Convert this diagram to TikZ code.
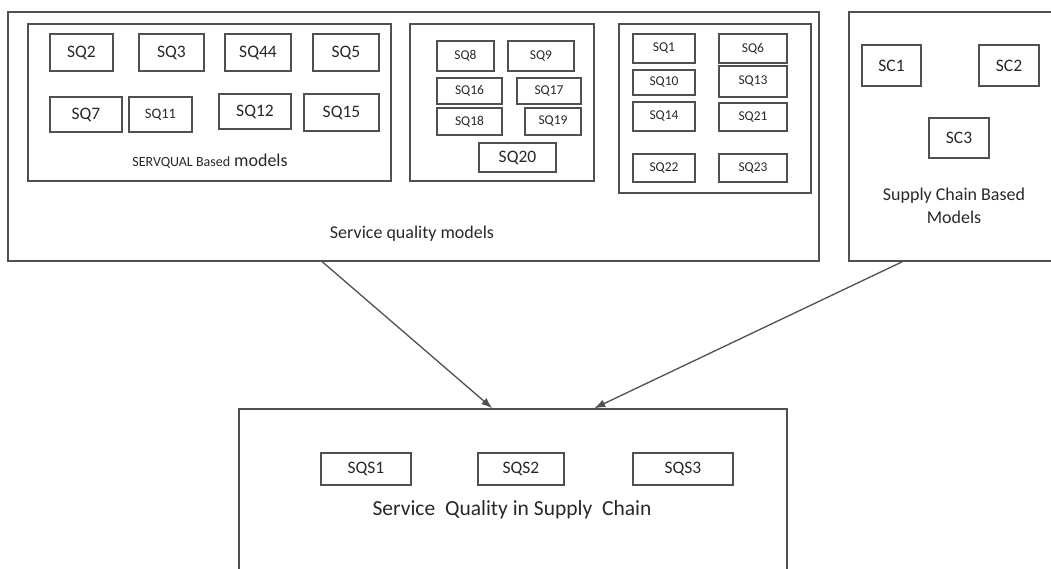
\documentclass[tikz,border=0pt]{standalone}
\usepackage{fontspec}
\setmainfont{Carlito}
\usetikzlibrary{arrows.meta}

\definecolor{linegray}{RGB}{80,80,80}
\definecolor{textgray}{RGB}{40,40,40}

\begin{document}
\begin{tikzpicture}[x=1pt, y=-1pt, >={Latex[length=11pt,width=8pt]},
    frame/.style={rectangle, draw=linegray, line width=1.5pt, inner sep=0pt},
    box/.style={rectangle, draw=linegray, line width=1.6pt, inner sep=0pt, text=textgray, font=\fontsize{17.5}{20}\selectfont},
    smallbox/.style={box, font=\fontsize{13.5}{16}\selectfont},
    caption/.style={text=textgray, font=\fontsize{18}{23}\selectfont, align=center}]
\useasboundingbox (0,0) rectangle (1051,568);

% service quality models and its three groups
\node[frame, minimum width=811, minimum height=249] (sqm) at (413.5,136.5) {};
\node[frame, minimum width=363, minimum height=157] (servqual) at (209.5,102.5) {};
\node[frame, minimum width=184, minimum height=157] (grpB) at (502,102.5) {};
\node[frame, minimum width=192, minimum height=169] (grpC) at (715,108.5) {};
\node[caption] (sqmtext) at (412,234) {Service quality models};

% SERVQUAL based
\node[box, minimum width=63, minimum height=37] (sq2) at (81.5,52.5) {SQ2};
\node[box, minimum width=65, minimum height=37] (sq3) at (171.5,52.5) {SQ3};
\node[box, minimum width=66, minimum height=37] (sq44) at (258,52.5) {SQ44};
\node[box, minimum width=66, minimum height=37] (sq5) at (346,52.5) {SQ5};
\node[box, minimum width=72, minimum height=35] (sq7) at (86,114.5) {SQ7};
\node[box, minimum width=63, minimum height=35, font=\fontsize{14.5}{17}\selectfont] (sq11) at (160.5,114.5) {SQ11};
\node[box, minimum width=72, minimum height=35] (sq12) at (255,111.5) {SQ12};
\node[box, minimum width=75, minimum height=37] (sq15) at (341.5,112.5) {SQ15};
\node[caption] (servtext) at (210,161) {{\fontsize{14}{17}\selectfont SERVQUAL Based} models};

% second group
\node[smallbox, minimum width=57, minimum height=30] (sq8) at (465.5,56) {SQ8};
\node[smallbox, minimum width=66, minimum height=30] (sq9) at (541,56) {SQ9};
\node[smallbox, minimum width=65, minimum height=26] (sq16) at (469.5,91) {SQ16};
\node[smallbox, minimum width=64, minimum height=26] (sq17) at (549,91) {SQ17};
\node[smallbox, minimum width=65, minimum height=27] (sq18) at (469.5,121.5) {SQ18};
\node[smallbox, minimum width=56, minimum height=27] (sq19) at (553,121.5) {SQ19};
\node[box, minimum width=77, minimum height=29] (sq20) at (517.5,157.5) {SQ20};

% third group
\node[smallbox, minimum width=62, minimum height=29] (sq1) at (664,48.5) {SQ1};
\node[smallbox, minimum width=68, minimum height=29] (sq6) at (753,48.5) {SQ6};
\node[smallbox, minimum width=62, minimum height=25] (sq10) at (664,82.5) {SQ10};
\node[smallbox, minimum width=68, minimum height=31] (sq13) at (753,81.5) {SQ13};
\node[smallbox, minimum width=62, minimum height=29] (sq14) at (664,116.5) {SQ14};
\node[smallbox, minimum width=68, minimum height=28] (sq21) at (753,117) {SQ21};
\node[smallbox, minimum width=62, minimum height=28] (sq22) at (664,168) {SQ22};
\node[smallbox, minimum width=68, minimum height=28] (sq23) at (753,168) {SQ23};

% supply chain based models
\node[frame, minimum width=211, minimum height=249] (scm) at (954.5,136.5) {};
\node[box, minimum width=59, minimum height=41] (sc1) at (891.5,65.5) {SC1};
\node[box, minimum width=60, minimum height=41] (sc2) at (1009,65.5) {SC2};
\node[box, minimum width=60, minimum height=40] (sc3) at (959,138) {SC3};
\node[caption] (scmtext) at (954,206) {Supply Chain Based\\Models};

% service quality in supply chain
\node[frame, minimum width=548, minimum height=191] (sqsc) at (513,504.5) {};
\node[box, minimum width=90, minimum height=32] (sqs1) at (366,469) {SQS1\hspace{20pt}};
\node[box, minimum width=86, minimum height=32] (sqs2) at (521,469) {SQS2\hspace{10pt}};
\node[box, minimum width=100, minimum height=32] (sqs3) at (683,469) {SQS3\hspace{30pt}};
\node[caption, font=\fontsize{21.5}{25}\selectfont] (sqsctext) at (512,510) {Service\hspace{5pt} Quality in Supply\hspace{5pt} Chain};

\draw[->, draw=linegray, line width=1.3pt] ([xshift=315pt]sqm.south west) -- ([xshift=254pt]sqsc.north west);
\draw[->, draw=linegray, line width=1.3pt] ([xshift=54pt]scm.south west) -- ([xshift=356pt]sqsc.north west);

\end{tikzpicture}
\end{document}
